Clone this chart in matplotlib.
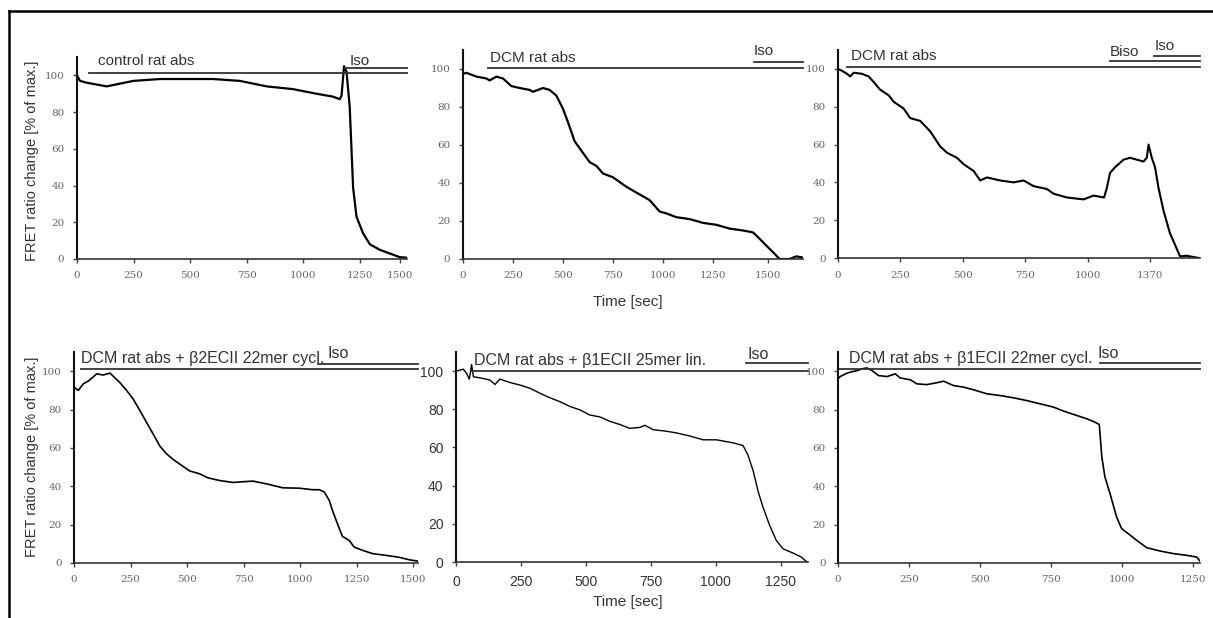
import matplotlib.pyplot as plt
from matplotlib.lines import Line2D

# control rat abs
t_ctrl = [0, 13, 43, 131, 249, 366, 484, 601, 719, 837, 954, 1057, 1131, 1160,
          1168, 1179, 1190, 1204, 1219, 1234, 1263, 1293, 1337, 1381, 1425, 1457]
r_ctrl = [100, 97, 96, 94, 97, 98, 98, 98, 97, 94, 92.5, 90, 88.4, 87,
          89, 105, 102, 83, 39, 23, 14, 8, 5, 3, 1, 0.7]

# DCM rat abs
t_dcm = [0, 17, 67, 117, 133, 167, 200, 242, 283, 333, 350, 400, 433, 467, 500,
         525, 558, 592, 633, 667, 700, 750, 817, 883, 933, 983, 1017, 1067, 1133,
         1200, 1267, 1333, 1400, 1450, 1475, 1517, 1550, 1583, 1633, 1667, 1700]
r_dcm = [97.4, 98, 96, 95, 94, 96, 95, 91, 90, 89, 88, 90, 89, 86, 79,
         72, 62, 57, 51, 49, 45, 43, 38, 34, 31, 25, 24, 22, 21,
         19, 18, 16, 15, 14, 11.5, 7, 3.6, 0, 0, 1.4, 0.7]

# DCM rat abs, Biso then Iso
t_biso = [0, 16, 36, 49, 63, 96, 123, 143, 169, 203, 223, 263, 289, 329, 369,
          409, 436, 476, 503, 543, 569, 596, 649, 703, 743, 783, 836, 863, 916,
          983, 1023, 1065, 1076, 1089, 1109, 1143, 1169, 1196, 1223, 1236, 1243,
          1256, 1269, 1283, 1303, 1329, 1349, 1369, 1396, 1423, 1447]
r_biso = [100, 99, 97.4, 96, 98, 97.4, 96, 93, 89, 86, 82.6, 79, 74, 72.5, 67,
          59, 55.7, 53, 49.6, 46, 41, 42.6, 41, 40, 41, 38, 36.5, 34, 32,
          31, 33, 32, 37, 45, 48, 52, 53, 52, 51, 53, 60,
          53, 48, 37, 25, 13, 7, 0.9, 1.2, 0.5, 0]

# DCM rat abs + b2ECII 22mer cycl.
t_b2 = [0, 19, 41, 63, 85, 100, 129, 159, 181, 203, 232, 261, 291, 320, 349,
        379, 408, 438, 474, 511, 555, 592, 643, 702, 790, 849, 922, 996, 1054,
        1084, 1106, 1128, 1142, 1164, 1186, 1216, 1238, 1275, 1319, 1377, 1436,
        1480, 1517]
r_b2 = [91.7, 90, 93.4, 94.8, 97, 98.6, 98, 99, 96.5, 94, 90, 85.6, 79.5, 73.4, 67.4,
        61, 57, 54, 51, 48, 46.5, 44.4, 43, 42, 42.7, 41.3, 39.2, 39, 38.2,
        38.2, 37, 32.6, 27.4, 20.5, 13.9, 11.8, 8.3, 6.6, 4.9, 4, 3,
        1.7, 1]

# DCM rat abs + b1ECII 25mer lin.
t_b1lin = [0, 15, 28, 41, 51, 56, 60, 67, 92, 131, 150, 169, 208, 246, 285,
           323, 362, 400, 438, 477, 515, 554, 592, 631, 669, 708, 727, 759, 810,
           849, 900, 951, 1003, 1067, 1105, 1124, 1144, 1163, 1182, 1208, 1233,
           1259, 1297, 1329, 1351]
r_b1lin = [100, 100.5, 101, 98.8, 95.8, 99.6, 103.5, 97, 96.5, 95.3, 93, 95.8, 94, 92.7, 91,
           88.4, 86, 84, 81.5, 79.7, 77, 76, 73.7, 72, 70, 70.5, 71.6, 69.3, 68.5,
           67.6, 66, 64, 64, 62.4, 61, 56, 47.7, 37, 28.6, 19, 11.3,
           6.9, 4.7, 2.6, 0]

# DCM rat abs + b1ECII 22mer cycl.
t_b1cyc = [0, 8, 26, 43, 67, 85, 102, 120, 143, 173, 202, 219, 255, 278, 313,
           349, 372, 407, 442, 478, 525, 572, 619, 665, 712, 759, 795, 842, 877,
           906, 921, 930, 941, 959, 982, 1000, 1023, 1053, 1088, 1135, 1182,
           1229, 1264, 1276]
r_b1cyc = [96, 97.2, 98.6, 99.5, 100.3, 101.2, 101.7, 100.3, 97.7, 97.2, 98.6, 96.5, 95.5, 93.4, 93,
           94, 94.8, 92.5, 91.7, 90.3, 88.2, 87.3, 86.1, 84.7, 83, 81.3, 79.2, 76.9, 75.2,
           73.4, 72.2, 55.2, 44.8, 36.1, 24, 17.9, 15.3, 11.8, 8, 6.25, 4.9,
           4, 3.1, 1]

# treatment bars: label, start time, bar level, label x, label y
bars_ctrl = [('control rat abs', 51, 101.3, 94, 108), ('Iso', 1182, 104, 1204, 108)]
bars_dcm = [('DCM rat abs', 125, 100.7, 137, 106), ('Iso', 1453, 103.5, 1453, 109.5)]
bars_biso = [('DCM rat abs', 36, 101, 53, 106.6), ('Biso', 1087, 104, 1087, 109),
             ('Iso', 1265, 107, 1269, 112)]
bars_b2 = [('DCM rat abs + β2ECII 22mer cycl.', 29, 101, 29, 106.4), ('Iso', 1076, 103.5, 1120, 109)]
bars_b1lin = [('DCM rat abs + β1ECII 25mer lin.', 60, 100.2, 69, 105.7), ('Iso', 1115, 104.5, 1124, 108.7)]
bars_b1cyc = [('DCM rat abs + β1ECII 22mer cycl.', 0, 100.9, 38, 106.4), ('Iso', 924, 104.2, 915, 109.4)]

xt_ctrl = [0, 250, 500, 750, 1000, 1250, 1425]
xl_ctrl = ['0', '250', '500', '750', '1000', '1250', '1500']
xt_dcm = [0, 250, 500, 750, 1000, 1250, 1525]
xl_dcm = ['0', '250', '500', '750', '1000', '1250', '1500']
xt_biso = [0, 250, 500, 750, 1000, 1250]
xl_biso = ['0', '250', '500', '750', '1000', '1370']
xt_b2 = [0, 250, 500, 750, 1000, 1250, 1500]
xl_b2 = ['0', '250', '500', '750', '1000', '1250', '1500']
xt_b1 = [0, 250, 500, 750, 1000, 1250]
xl_b1 = ['0', '250', '500', '750', '1000', '1250']
yt = [0, 20, 40, 60, 80, 100]

W, H = 1213, 618
fig = plt.figure(figsize=(W / 100, H / 100), dpi=100)

# pixel box (left, right, top, bottom), x max, line width, tick font
panels = [
    (t_ctrl, r_ctrl, bars_ctrl, xt_ctrl, xl_ctrl, (77, 407, 57, 259), 1457, 1.6, 'serif'),
    (t_dcm, r_dcm, bars_dcm, xt_dcm, xl_dcm, (463, 803, 50, 259), 1700, 1.6, 'serif'),
    (t_biso, r_biso, bars_biso, xt_biso, xl_biso, (838, 1200, 50, 258), 1449, 1.5, 'serif'),
    (t_b2, r_b2, bars_b2, xt_b2, xl_b2, (74, 418, 352, 563), 1520, 1.2, 'serif'),
    (t_b1lin, r_b1lin, bars_b1lin, xt_b1, xl_b1, (456, 808, 352, 562), 1355, 1.0, 'sans'),
    (t_b1cyc, r_b1cyc, bars_b1cyc, xt_b1, xl_b1, (838, 1200, 352, 563), 1276, 1.2, 'serif'),
]

for t, r, bars, xt, xl, (x0, x1, top, bot), xmax, lw, tf in panels:
    ax = fig.add_axes([x0 / W, 1 - bot / H, (x1 - x0) / W, (bot - top) / H])
    ax.plot(t, r, color='black', lw=lw)
    ax.set_xlim(0, xmax)
    ax.set_ylim(0, 110)
    ax.set_xticks(xt)
    ax.set_xticklabels(xl)
    ax.set_yticks(yt)
    for side in ['top', 'right']:
        ax.spines[side].set_visible(False)
    ax.spines['left'].set_linewidth(1.5)
    ax.spines['left'].set_color('#111111')
    ax.spines['bottom'].set_linewidth(1.2)
    ax.spines['bottom'].set_color('#333333')
    ax.tick_params(direction='out', length=3, width=1, color='#444444', pad=6)
    if tf == 'sans':
        for lab in ax.get_xticklabels() + ax.get_yticklabels():
            lab.set_fontfamily('Liberation Sans')
            lab.set_fontsize(10)
            lab.set_color('#333333')
    else:
        for lab in ax.get_xticklabels() + ax.get_yticklabels():
            lab.set_fontfamily('DejaVu Serif')
            lab.set_fontsize(7.5)
            lab.set_color('#666666')
    fs = 11 if top < 300 else 11.5
    for label, xs, yl, tx, ty in bars:
        ax.plot([xs, xmax], [yl, yl], color='#333333', lw=1.3, clip_on=False)
        ax.text(tx, ty, label, fontsize=fs, family='Liberation Sans', color='#333333',
                ha='left', va='center', clip_on=False)

fig.text(32 / W, 1 - 161 / H, 'FRET ratio change [% of max.]', rotation=90,
         ha='center', va='center', fontsize=10.5, family='Liberation Sans', color='#333333')
fig.text(32 / W, 1 - 457 / H, 'FRET ratio change [% of max.]', rotation=90,
         ha='center', va='center', fontsize=10.5, family='Liberation Sans', color='#333333')
fig.text(628 / W, 1 - 302 / H, 'Time [sec]', ha='center', va='center',
         fontsize=11, family='Liberation Sans', color='#333333')
fig.text(628 / W, 1 - 602 / H, 'Time [sec]', ha='center', va='center',
         fontsize=11, family='Liberation Sans', color='#333333')

# frame of the figure
fig.add_artist(Line2D([9 / W, 9 / W], [0, 1 - 11 / H], color='black', lw=1.8))
fig.add_artist(Line2D([9 / W, 1], [1 - 11 / H, 1 - 11 / H], color='black', lw=1.8))

plt.savefig('out.png', dpi=100)
